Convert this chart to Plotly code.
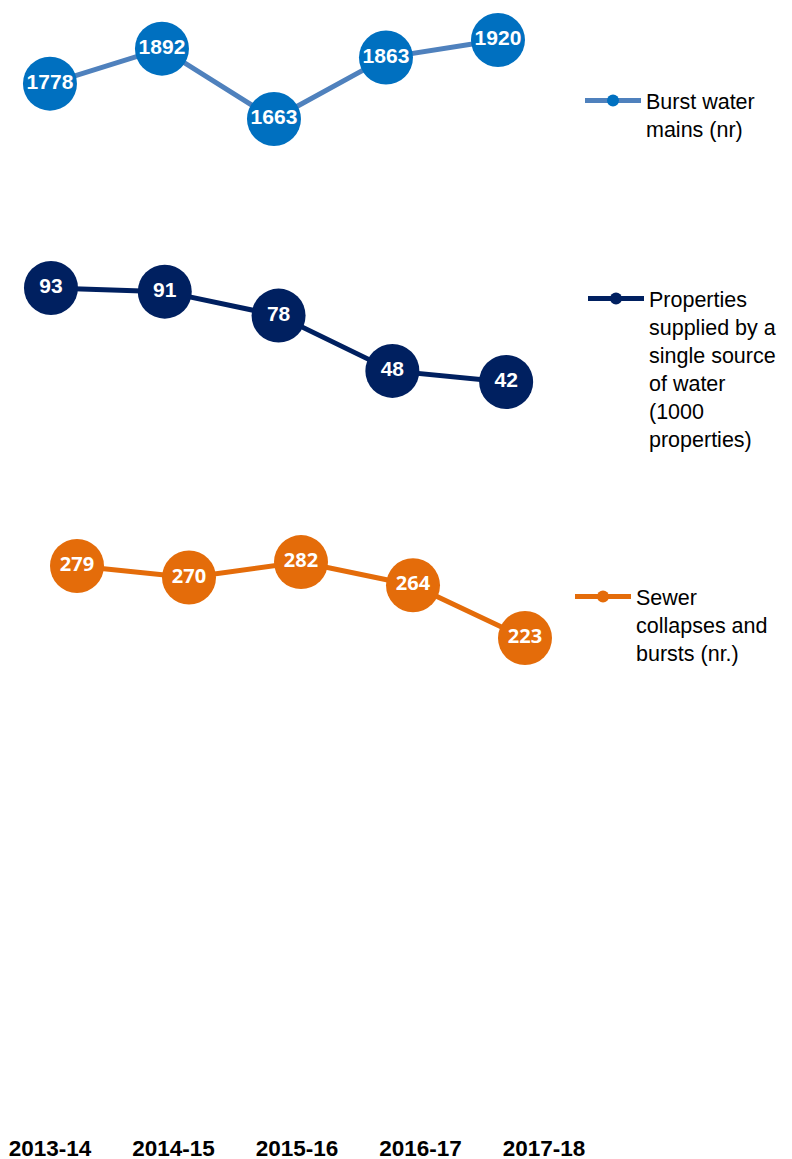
import plotly.graph_objects as go

YEARS = ["2013-14", "2014-15", "2015-16", "2016-17", "2017-18"]
BURST_MAINS = [1778, 1892, 1663, 1863, 1920]
SINGLE_SOURCE = [93, 91, 78, 48, 42]
SEWER = [279, 270, 282, 264, 223]

NAMES = [
    "Burst water<br>mains (nr)",
    "Properties<br>supplied by a<br>single source<br>of water<br>(1000<br>properties)",
    "Sewer<br>collapses and<br>bursts (nr.)",
]

IDX = list(range(len(YEARS)))

W, H = 792, 1159
MB = 27
PH = H - MB  # plot height in px

FONT = "Arial, Liberation Sans, sans-serif"
FONT_ORANGE = "Open Sans, Arial, sans-serif"


def band(top_px, bottom_px):
    """vertical domain (paper fraction) for a band given in px from the top"""
    return [1 - bottom_px / PH, 1 - top_px / PH]


fig = go.Figure()

series = [
    (BURST_MAINS, NAMES[0], "#4F81BD", "#0070C0", "x", "y", "legend", FONT, 21),
    (SINGLE_SOURCE, NAMES[1], "#002060", "#002060", "x2", "y2", "legend2", FONT, 21),
    (SEWER, NAMES[2], "#E46C0A", "#E46C0A", "x3", "y3", "legend3", FONT_ORANGE, 20),
]

for vals, name, lc, mc, xa, ya, lg, ff, fs in series:
    fig.add_trace(go.Scatter(
        x=IDX, y=vals, name=name,
        mode="lines+markers+text",
        text=[str(v) for v in vals],
        textposition="middle center",
        textfont=dict(family=ff, size=fs, color="white", weight="bold"),
        line=dict(color=lc, width=5),
        marker=dict(color=mc, size=54, line=dict(width=0)),
        xaxis=xa, yaxis=ya, legend=lg,
        cliponaxis=False, hoverinfo="x+y",
    ))

# empty carrier so the category axis at the bottom is drawn
fig.add_trace(go.Scatter(x=IDX, y=[None] * len(IDX), xaxis="x4", yaxis="y4",
                         showlegend=False, hoverinfo="skip", mode="lines"))

hidden = dict(showgrid=False, zeroline=False, showticklabels=False,
              showline=False, ticks="", fixedrange=True, automargin=False)

fig.update_layout(
    width=W, height=H,
    margin=dict(l=0, r=0, t=0, b=MB),
    paper_bgcolor="white", plot_bgcolor="white",
    # series 1 (top band)
    xaxis=dict(domain=[0, 1], range=[-0.446, 6.625], anchor="y", **hidden),
    yaxis=dict(domain=band(0, 170), range=[1497.2, 2050.2], anchor="x", **hidden),
    # series 2 (middle band)
    xaxis2=dict(domain=[0, 1], range=[-0.448, 6.512], anchor="y2", **hidden),
    yaxis2=dict(domain=band(200, 450), range=[5.07, 140.72], anchor="x2", **hidden),
    # series 3 (lower band)
    xaxis3=dict(domain=[0, 1], range=[-0.6875, 6.384], anchor="y3", **hidden),
    yaxis3=dict(domain=band(500, 700), range=[174.9, 330.2], anchor="x3", **hidden),
    # category labels at the bottom
    xaxis4=dict(domain=[0, 1], range=[-0.405, 6.008], anchor="y4",
                tickmode="array", tickvals=IDX, ticktext=YEARS,
                showgrid=False, zeroline=False, showline=False, ticks="",
                fixedrange=True, automargin=False,
                tickfont=dict(family=FONT, size=22.5, color="black", weight="bold")),
    yaxis4=dict(domain=[0, 0.01], range=[0, 1], anchor="x4", **hidden),
)

leg_common = dict(xanchor="left", yanchor="top", bgcolor="rgba(0,0,0,0)",
                  borderwidth=0, itemsizing="constant", valign="top",
                  font=dict(family=FONT, size=21.5, color="black"), itemwidth=56)

fig.update_layout(
    legend=dict(x=580 / W, y=1 - 80 / PH, **leg_common),
    legend2=dict(x=583 / W, y=1 - 278 / PH, **leg_common),
    legend3=dict(x=570 / W, y=1 - 576 / PH, **leg_common),
    showlegend=True,
)

fig.write_html("out.html")
